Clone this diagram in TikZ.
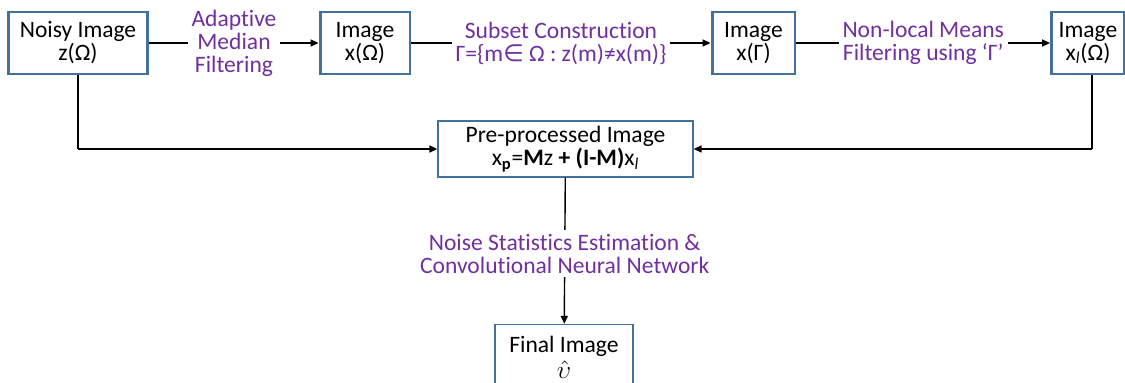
\documentclass[tikz,border=0pt]{standalone}
\usepackage{fontspec}
\setmainfont[Ligatures=NoCommon]{Carlito}
\newfontfamily\symfont{DejaVu Sans}
\usepackage{amsmath}
\usetikzlibrary{arrows.meta}

\definecolor{boxblue}{RGB}{65,113,156}
\definecolor{labelpurple}{RGB}{112,48,160}

\begin{document}
\begin{tikzpicture}[x=0.02cm, y=-0.02cm,
        font=\fontsize{13.4}{13.1}\selectfont,
        stage/.style={draw=boxblue, line width=1.7pt, fill=white, align=center,
            minimum height=1.24cm, inner sep=1pt},
        result/.style={draw=boxblue, line width=0.8pt, fill=white, align=center,
            inner sep=1pt},
        flow/.style={line width=0.8pt, -{Triangle[length=4.5pt, width=4pt]}},
        tie/.style={line width=0.8pt},
        step label/.style={text=labelpurple, fill=white, align=center, inner sep=2pt}]
        \useasboundingbox (0, 0) rectangle (1125, 382);

        % top row
        \node[stage, minimum width=2.8cm] (noisy) at (78, 43) {Noisy Image\\z(Ω)};
        \node[stage, minimum width=1.8cm] (xomega) at (365, 43) {Image\\x(Ω)};
        \node[stage, minimum width=1.66cm] (xgamma) at (753.5, 43) {Image\\x(Γ)};
        \node[stage, minimum width=1.46cm] (xl) at (1088, 43) {Image\\x\textsubscript{\textit{l}}(Ω)};

        % merge and output
        \node[result, minimum width=5.1cm, minimum height=1.12cm] (pre) at (565.5, 149)
            {Pre-processed Image\\x\textsubscript{\textbf{p}}=\textbf{M}z \textbf{+} \textbf{(I-M)}x\textsubscript{\textit{l}}};
        \node[result, minimum width=2.76cm, minimum height=1.3cm] (final) at (564, 357)
            {Final Image\\[1.5pt]$\hat{\upsilon}$};

        \coordinate (noisydown) at (78, 149);
        \coordinate (xldown) at (1092, 149);

        \draw[flow] (noisy) -- node[step label] {Adaptive\\Median\\Filtering} (xomega);
        \draw[flow] (xomega) -- node[step label]
            {Subset Construction\\Γ=\{m{\symfont ∈} Ω : z(m)≠x(m)\}} (xgamma);
        \draw[flow] (xgamma) -- node[step label] {Non-local Means\\Filtering using ‘Γ’} (xl);

        \draw[tie] (noisy) -- (noisydown);
        \draw[flow] (noisydown) -- (pre);
        \draw[tie] (xl.south -| xldown) -- (xldown);
        \draw[flow] (xldown) -- (pre);

        \draw[flow] (pre) -- node[step label, pos=0.52]
            {Noise Statistics Estimation \&\\Convolutional Neural Network} (final);
\end{tikzpicture}
\end{document}
